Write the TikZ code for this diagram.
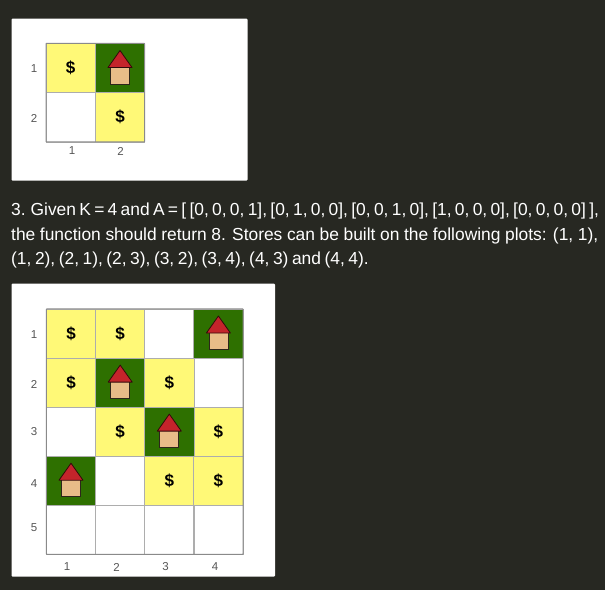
\documentclass[tikz,border=0pt]{standalone}
\usepackage{fontspec}
\setmainfont{Liberation Sans}
\usetikzlibrary{calc}
\definecolor{pagebg}{HTML}{272822}
\definecolor{plotyellow}{HTML}{FFF977}
\definecolor{plotgreen}{HTML}{2E7000}
\definecolor{roofred}{HTML}{C4242B}
\definecolor{walltan}{HTML}{E8BC88}
\definecolor{gridgray}{HTML}{8A8A8A}
\definecolor{numgray}{HTML}{555555}
\tikzset{
  panel/.style={fill=white,rounded corners=1pt},
  cell/.style={draw=gridgray!70,line width=.7pt,minimum size=49.2pt,inner sep=0pt,outer sep=0pt,font=\bfseries\fontsize{17}{17}\selectfont},
  store/.style={cell,fill=plotyellow,text=black},
  house/.style={cell,fill=plotgreen},
  frame/.style={draw=gridgray,line width=1pt,rounded corners=.5pt},
  num/.style={text=numgray,font=\fontsize{11.5}{11.5}\selectfont,inner sep=0pt},
  para/.style={text=white,anchor=base west,inner sep=0pt,font=\fontsize{17.4}{17.4}\selectfont},
  tight/.style={execute at begin node={\spaceskip=#1pt\relax}},
  roof/.style={draw=black!75!roofred,line width=.8pt,fill=roofred,line join=round},
  wall/.style={draw=black!80!walltan,line width=.8pt,fill=walltan},
}
\newcommand{\hut}[1]{%
  \draw[wall] ($(#1)+(-9.5,-1)$) rectangle ($(#1)+(9.5,16)$);
  \draw[roof] ($(#1)+(0,-17.5)$) -- ($(#1)+(12,-.5)$) -- ($(#1)+(-12,-.5)$) -- cycle;
}
\begin{document}
\begin{tikzpicture}[x=1pt,y=-1pt]
  \useasboundingbox[fill=pagebg] (0,0) rectangle (605,590);
  \node[panel,minimum width=236pt,minimum height=162pt,inner sep=0pt] (small) at (129.5,99.5) {};
  \node[panel,minimum width=263.5pt,minimum height=293pt,inner sep=0pt] (big) at (143.25,430) {};

  % small grid
  \node[store] (a11) at (70.6,68) {\$};
  \node[house] (a12) at (120,68) {};
  \node[cell] (a21) at (70.6,117.3) {};
  \node[store] (a22) at (120,117.3) {\$};
  \hut{a12}
  \draw[frame] (a11.north west) rectangle (a22.south east);
  \foreach \r/\y in {1/69,2/118}
    \node[num] (ar\r) at (34,\y) {\r};
  \foreach \c/\x in {1/72,2/120.5}
    \node[num] (ac\c) at (\x,151) {\c};

  % text
  \node[para,tight=3.3] (line1) at (11,215) {3. Given K = 4 and A = [ [0, 0, 0, 1], [0, 1, 0, 0], [0, 0, 1, 0], [1, 0, 0, 0], [0, 0, 0, 0] ],};
  \node[para,tight=4.6] (line2) at (11,240) {the function should return 8. Stores can be built on the following plots: (1, 1),};
  \node[para,tight=3.5] (line3) at (11,264) {(1, 2), (2, 1), (2, 3), (3, 2), (3, 4), (4, 3) and (4, 4).};

  % big grid
  \foreach \r/\y in {1/333.5,2/382.6,3/431.6,4/480.7,5/529.7}
    \foreach \c/\x in {1/71,2/120.2,3/169.3,4/218.4}
      \node[cell] (b\r\c) at (\x,\y) {};
  \foreach \n in {b11,b12,b21,b23,b32,b34,b43,b44}
    \node[store] (s\n) at (\n) {\$};
  \foreach \n in {b14,b22,b33,b41}{
    \node[house] (h\n) at (\n) {};
    \hut{\n}
  }
  \draw[frame] (b11.north west) rectangle (b54.south east);
  \foreach \r/\y in {1/335,2/384.5,3/431.5,4/484,5/528}
    \node[num] (br\r) at (34,\y) {\r};
  \foreach \c/\x in {1/67,2/116.5,3/165.5,4/215}
    \node[num] (bc\c) at (\x,567) {\c};
\end{tikzpicture}
\end{document}
